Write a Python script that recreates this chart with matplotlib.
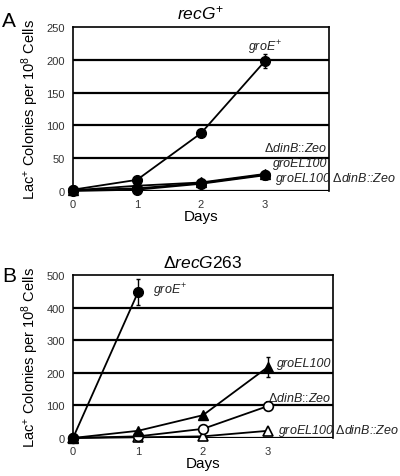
import matplotlib
matplotlib.use("Agg")
import matplotlib.pyplot as plt

plt.rcParams['font.family'] = ['Liberation Sans', 'DejaVu Sans']
plt.rcParams['mathtext.fontset'] = 'custom'
plt.rcParams['mathtext.rm'] = 'Liberation Sans'
plt.rcParams['mathtext.it'] = 'Liberation Sans:italic'

days = [0, 1, 2, 3]

# panel A: recG+
a_groE = [2, 17, 88, 198]
a_groE_err = [0, 2, 3, 10]
a_groEL100 = [1, 8, 13, 26]
a_dinB = [1, 4, 12, 25]
a_double = [0, 2, 11, 24]

# panel B: delta recG263
b_days_groE = [0, 1]
b_groE = [0, 447]
b_groE_err = [0, 40]
b_groEL100 = [0, 22, 70, 218]
b_groEL100_err = [0, 3, 5, 30]
b_dinB = [0, 5, 28, 98]
b_dinB_err = [0, 1, 3, 12]
b_double = [0, 2, 5, 22]

fig = plt.figure(figsize=(4, 4.77), dpi=100)
axA = fig.add_axes([0.1825, 0.5975, 0.64, 0.344])
axB = fig.add_axes([0.1825, 0.0797, 0.65, 0.3417])


def style(ax, ymax, step):
    ax.set_xlim(0, 4)
    ax.set_ylim(0, ymax)
    ax.set_xticks([0, 1, 2, 3])
    ax.set_yticks(range(0, ymax + 1, step))
    ax.tick_params(length=0, labelsize=8, labelcolor='#333333', pad=6)
    for y in range(0, ymax, step):
        ax.axhline(y, color='black', lw=1.6, zorder=1)
    ax.spines['bottom'].set_visible(False)
    for s in ['left', 'top', 'right']:
        ax.spines[s].set_linewidth(1.2)
    ax.set_xlabel('Days', fontsize=11, labelpad=0)
    ax.set_ylabel('Lac$^{+}$ Colonies per 10$^{8}$ Cells', fontsize=10.5, labelpad=4)


kw = dict(color='black', lw=1.3, ms=7, capsize=1.5, elinewidth=1, zorder=3, clip_on=False)
lab = dict(fontsize=9, color='#222222')

# panel A
axA.errorbar(days, a_double, fmt='-o', **kw)
axA.errorbar(days, a_dinB, fmt='-o', **kw)
axA.errorbar(days, a_groEL100, fmt='-^', **kw)
axA.errorbar(days, a_groE, yerr=a_groE_err, fmt='-o', **kw)
style(axA, 250, 50)
axA.set_title('$recG^{+}$', fontsize=12.5, pad=6)
axA.text(3.0, 215, '$groE^{+}$', ha='center', **lab)
axA.text(3.98, 57, r'$\Delta$$dinB$::$Zeo$', ha='right', va='bottom', **lab)
axA.text(3.98, 33, 'groEL100', ha='right', va='bottom', style='italic', **lab)
axA.text(3.15, 7, r'groEL100 $\Delta$$dinB$::$Zeo$', ha='left', va='bottom',
         style='italic', clip_on=False, **lab)
fig.text(0.005, 0.975, 'A', fontsize=15, va='top')

# panel B
axB.errorbar(days, b_double, fmt='-^', mfc='white', mew=1.2, **kw)
axB.errorbar(days, b_dinB, yerr=b_dinB_err, fmt='-o', mfc='white', mew=1.2, **kw)
axB.errorbar(days, b_groEL100, yerr=b_groEL100_err, fmt='-^', **kw)
axB.errorbar(b_days_groE, b_groE, yerr=b_groE_err, fmt='-o', **kw)
style(axB, 500, 100)
axB.set_title(r'$\Delta$$recG263$', fontsize=12.5, pad=6)
axB.text(1.23, 445, '$groE^{+}$', ha='left', **lab)
axB.text(3.98, 222, 'groEL100', ha='right', style='italic', **lab)
axB.text(3.98, 112, r'$\Delta$$dinB$::$Zeo$', ha='right', **lab)
axB.text(3.15, 15, r'groEL100 $\Delta$$dinB$::$Zeo$', ha='left',
         style='italic', clip_on=False, **lab)
fig.text(0.005, 0.44, 'B', fontsize=15, va='top')

fig.savefig('out.png', dpi=100)
